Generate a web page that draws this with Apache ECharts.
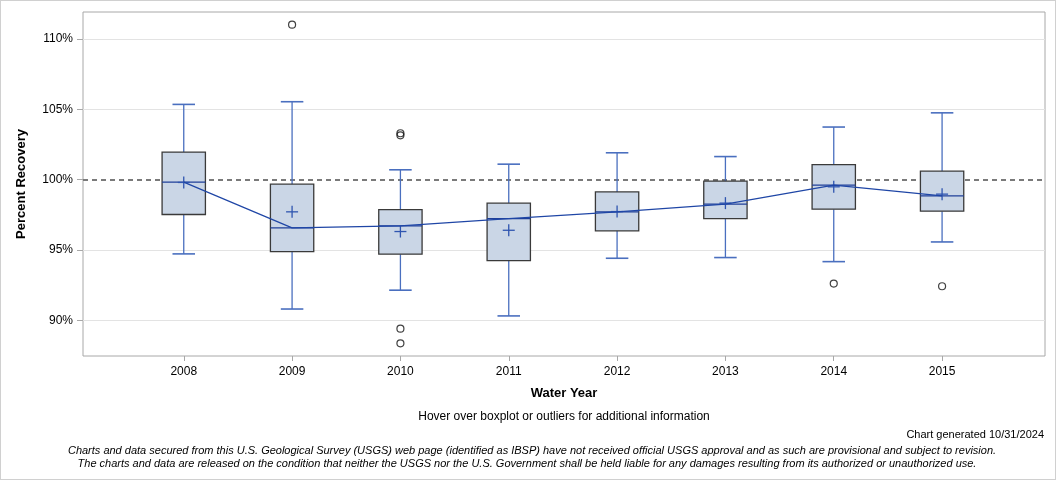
<!DOCTYPE html>
<html>
<head>
<meta charset="utf-8">
<script src="https://cdn.jsdelivr.net/npm/echarts@6/dist/echarts.min.js"></script>
<style>
html,body{margin:0;padding:0;background:#fff;}
#chart{width:1054px;height:478px;border:1px solid #d0d0d0;}
</style>
</head>
<body>
<div id="chart"></div>
<script>
// ---- data ----
var years = [2008, 2009, 2010, 2011, 2012, 2013, 2014, 2015];
var lowWhisker  = [94.72, 90.80, 92.14, 90.31, 94.41, 94.46, 94.17, 95.57];
var q1          = [97.52, 94.88, 94.70, 94.24, 96.36, 97.23, 97.90, 97.76];
var median      = [99.82, 96.57, 96.71, 97.23, 97.71, 98.26, 99.61, 98.85];
var q3          = [101.96, 99.68, 97.87, 98.33, 99.13, 99.89, 101.07, 100.60];
var highWhisker = [105.35, 105.54, 100.70, 101.10, 101.91, 101.64, 103.74, 104.75];
var meanVal     = [99.80, 97.71, 96.31, 96.40, 97.73, 98.33, 99.49, 98.97];
var outlierYears  = [2009, 2010, 2010, 2010, 2010, 2014, 2015];
var outlierValues = [111.02, 103.30, 103.15, 89.40, 88.36, 92.61, 92.42];
var yTicks = [90, 95, 100, 105, 110];
var referenceValue = 100;

var boxData = years.map(function (y, i) {
  return [y, lowWhisker[i], q1[i], median[i], q3[i], highWhisker[i], meanVal[i]];
});
var medianLine = years.map(function (y, i) { return [y, median[i]]; });
var outlierData = outlierYears.map(function (y, i) { return [y, outlierValues[i]]; });

var chart = echarts.init(document.getElementById('chart'));
var FONT = '"Liberation Sans", Arial, sans-serif';
var whiskerColor = '#4a6fbf';

function renderBox(params, api) {
  var x = api.value(0);
  var pLow = api.coord([x, api.value(1)]);
  var pQ1 = api.coord([x, api.value(2)]);
  var pMed = api.coord([x, api.value(3)]);
  var pQ3 = api.coord([x, api.value(4)]);
  var pHigh = api.coord([x, api.value(5)]);
  var pMean = api.coord([x, api.value(6)]);
  var bw = api.size([0.4, 0])[0];
  var cw = bw * 0.52;
  var cx = pMed[0];
  var ln = function (x1, y1, x2, y2, color, w) {
    return { type: 'line', shape: { x1: x1, y1: y1, x2: x2, y2: y2 },
      style: { stroke: color, lineWidth: w || 1.2 } };
  };
  return {
    type: 'group',
    children: [
      ln(cx, pLow[1], cx, pQ1[1], whiskerColor, 1.3),
      ln(cx, pQ3[1], cx, pHigh[1], whiskerColor, 1.3),
      ln(cx - cw / 2, pLow[1], cx + cw / 2, pLow[1], whiskerColor, 1.6),
      ln(cx - cw / 2, pHigh[1], cx + cw / 2, pHigh[1], whiskerColor, 1.6),
      { type: 'rect', shape: { x: cx - bw / 2, y: pQ3[1], width: bw, height: pQ1[1] - pQ3[1] },
        style: { fill: '#cad6e6', stroke: '#3a3a3a', lineWidth: 1.3 } },
      ln(cx - bw / 2, pMed[1], cx + bw / 2, pMed[1], '#1f3f98', 1.3),
      ln(cx - 6, pMean[1], cx + 6, pMean[1], '#2f55b0', 1.3),
      ln(cx, pMean[1] - 6, cx, pMean[1] + 6, '#2f55b0', 1.3)
    ]
  };
}

var gridLines = yTicks.filter(function (v) { return v !== referenceValue; }).map(function (v) {
  return { yAxis: v, lineStyle: { color: '#e3e3e3', width: 1, type: 'solid' } };
});
gridLines.push({ yAxis: referenceValue, lineStyle: { color: '#7a7a7a', width: 2, type: [5, 4] } });

var option = {
  animation: false,
  grid: { left: 82, right: 10, top: 11, bottom: 123, show: true, borderColor: '#a8a8a8', borderWidth: 1, backgroundColor: 'transparent' },
  xAxis: {
    type: 'value', min: 2007.07, max: 2015.95,
    name: 'Water Year', nameLocation: 'middle', nameGap: 31,
    nameTextStyle: { fontFamily: FONT, fontSize: 13, fontWeight: 'bold', color: '#000' },
    axisLine: { show: false },
    axisTick: { show: true, length: 5, lineStyle: { color: '#a8a8a8' }, customValues: years },
    axisLabel: { customValues: years, fontFamily: FONT, fontSize: 12, color: '#000', margin: 10,
      formatter: function (v) { return String(v); } },
    splitLine: { show: false }
  },
  yAxis: {
    type: 'value', min: 87.46, max: 111.92,
    name: 'Percent Recovery', nameLocation: 'middle', nameGap: 55,
    nameTextStyle: { fontFamily: FONT, fontSize: 13, fontWeight: 'bold', color: '#000' },
    axisLine: { show: false },
    axisTick: { show: true, length: 6, lineStyle: { color: '#a8a8a8' }, customValues: yTicks },
    axisLabel: { customValues: yTicks, fontFamily: FONT, fontSize: 12, color: '#000', margin: 10,
      formatter: function (v) { return v + '%'; } },
    splitLine: { show: false }
  },
  graphic: [
    { type: 'text', x: 563, y: 416, style: { text: 'Hover over boxplot or outliers for additional information',
      fontFamily: FONT, fontSize: 12, fill: '#000', textAlign: 'center', textVerticalAlign: 'middle' } },
    { type: 'text', x: 1043, y: 434, style: { text: 'Chart generated 10/31/2024',
      fontFamily: FONT, fontSize: 11, fill: '#000', textAlign: 'right', textVerticalAlign: 'middle' } },
    { type: 'text', x: 531, y: 450, style: { text: 'Charts and data secured from this U.S. Geological Survey (USGS) web page (identified as IBSP) have not received official USGS approval and as such are provisional and subject to revision.',
      fontFamily: FONT, fontSize: 11, fontStyle: 'italic', fill: '#000', textAlign: 'center', textVerticalAlign: 'middle' } },
    { type: 'text', x: 526, y: 463, style: { text: 'The charts and data are released on the condition that neither the USGS nor the U.S. Government shall be held liable for any damages resulting from its authorized or unauthorized use.',
      fontFamily: FONT, fontSize: 11, fontStyle: 'italic', fill: '#000', textAlign: 'center', textVerticalAlign: 'middle' } }
  ],
  series: [
    {
      type: 'line', data: [], z: 1,
      markLine: { silent: true, z: 1, symbol: 'none', label: { show: false }, data: gridLines, animation: false }
    },
    {
      type: 'custom', renderItem: renderBox, data: boxData, z: 3,
      encode: { x: 0, y: [1, 2, 3, 4, 5, 6] }
    },
    {
      type: 'line', data: medianLine, z: 4, symbol: 'none',
      lineStyle: { color: '#1f46a6', width: 1.2 }
    },
    {
      type: 'scatter', data: outlierData, z: 5, symbol: 'circle', symbolSize: 7,
      itemStyle: { color: 'transparent', borderColor: '#111', borderWidth: 1.2 }
    }
  ]
};
chart.setOption(option);
</script>
</body>
</html>
